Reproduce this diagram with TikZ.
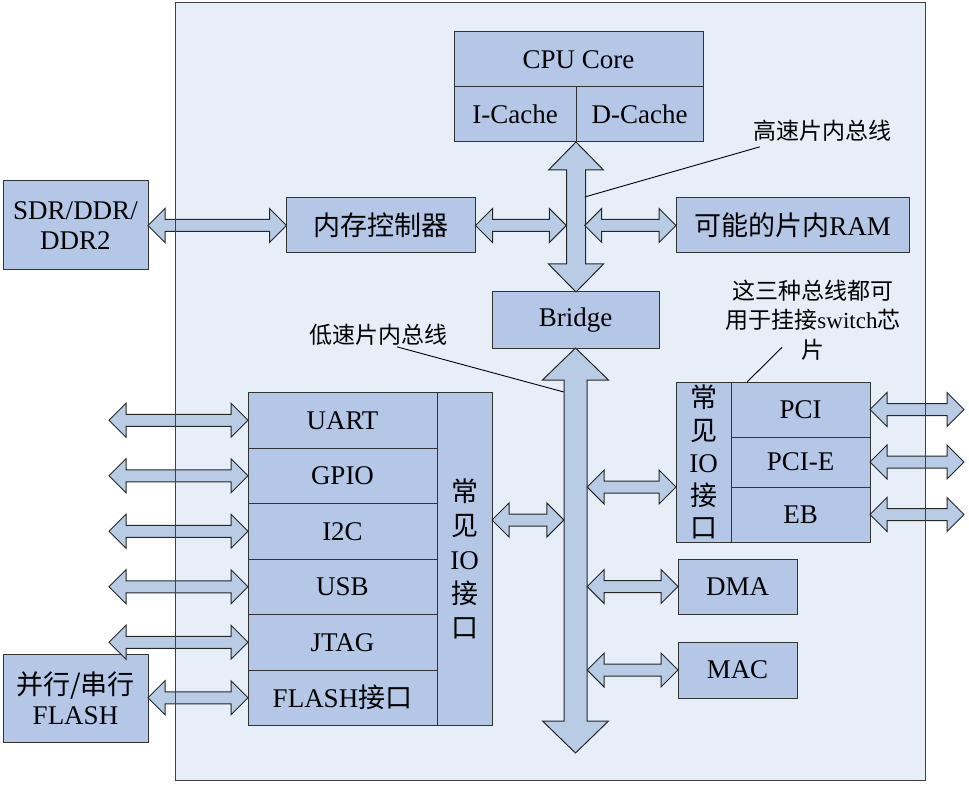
\documentclass[tikz,border=0pt]{standalone}
\usepackage{fontspec}
\setmainfont{Liberation Serif}
\newfontfamily\cjk{Noto Sans CJK SC}
\usetikzlibrary{positioning,fit,calc}
\definecolor{boxblue}{RGB}{180,199,231}
\definecolor{bgblue}{RGB}{232,238,248}
\definecolor{arrowblue}{RGB}{185,204,229}

% horizontal double block arrow: left end, right end, point giving the height
\newcommand{\hbiarrow}[3]{%
  \path (#1 |- #3) coordinate (ha) (#2 |- #3) coordinate (hb);
  \draw[blockarrow] (ha) -- ($(ha)+(17,-17)$) -- ($(ha)+(17,-6)$) -- ($(hb)+(-17,-6)$)
    -- ($(hb)+(-17,-17)$) -- (hb) -- ($(hb)+(-17,17)$) -- ($(hb)+(-17,6)$)
    -- ($(ha)+(17,6)$) -- ($(ha)+(17,17)$) -- cycle;
}
% vertical double block arrow: top end, bottom end, head length, head half width, shaft half width
\newcommand{\vbiarrow}[5]{%
  \path (#1) coordinate (va) (va |- #2) coordinate (vb);
  \draw[blockarrow] (va) -- ($(va)+(#4,#3)$) -- ($(va)+(#5,#3)$) -- ($(vb)+(#5,-#3)$)
    -- ($(vb)+(#4,-#3)$) -- (vb) -- ($(vb)+(-#4,-#3)$) -- ($(vb)+(-#5,-#3)$)
    -- ($(va)+(-#5,#3)$) -- ($(va)+(-#4,#3)$) -- cycle;
}

\begin{document}
\begin{tikzpicture}[x=1pt, y=-1pt,
    box/.style={rectangle, draw=black!80, fill=boxblue, line width=1pt, inner sep=0pt, outer sep=0pt, align=center, font=\fontsize{27}{30}\selectfont},
    rowbox/.style={box, minimum width=189, minimum height=55.5},
    colbox/.style={box, minimum width=55},
    note/.style={align=center, inner sep=1pt, font=\cjk\fontsize{23}{29.5}\selectfont},
    blockarrow/.style={draw=black!85, fill=arrowblue, line width=1pt, line join=miter},
    leader/.style={draw=black, line width=0.9pt}
]
\useasboundingbox (0,0) rectangle (969,786);
\node[fit={(176,3) (925,780)}, inner sep=0pt, fill=bgblue] (chip) {};

% CPU and high speed bus
\node[box, minimum width=249, minimum height=55] (cpu) at (578.5,59.5) {CPU Core};
\node[box, minimum width=122, minimum height=55, anchor=north west] (icache) at (cpu.south west) {I-Cache};
\node[box, minimum width=127, minimum height=55, right=0pt of icache] (dcache) {D-Cache};
\node[box, minimum width=189, minimum height=55] (memctl) at (381,225.5) {{\cjk 内存控制器}};
\node[box, minimum width=233, minimum height=55] (ram) at (792.5,225.5) {{\cjk 可能的片内}RAM};
\node[box, minimum width=145, minimum height=89] (sdr) at (75.5,225.5) {SDR/DDR/\\DDR2};
\node[box, minimum width=167, minimum height=56] (bridge) at (575.5,320) {Bridge};

% low speed IO
\node[rowbox] (uart) at (342.5,420.25) {UART};
\node[rowbox, below=0pt of uart] (gpio) {GPIO};
\node[rowbox, below=0pt of gpio] (i2c) {I2C};
\node[rowbox, below=0pt of i2c] (usb) {USB};
\node[rowbox, below=0pt of usb] (jtag) {JTAG};
\node[rowbox, below=0pt of jtag] (flashif) {FLASH{\cjk 接口}};
\node[colbox, minimum height=333, anchor=north west, font=\fontsize{27}{34}\selectfont] (lio) at (uart.north east)
    {{\cjk 常}\\{\cjk 见}\\IO\\{\cjk 接}\\{\cjk 口}};
\node[box, minimum width=145, minimum height=88] (flashchip) at (75.5,698) {{\cjk 并行/串行}\\FLASH};

\node[colbox, minimum height=160, font=\fontsize{27}{32.5}\selectfont] (rio) at (703.5,462)
    {{\cjk 常}\\{\cjk 见}\\IO\\{\cjk 接}\\{\cjk 口}};
\node[box, minimum width=139, minimum height=55, anchor=north west] (pci) at (rio.north east) {PCI};
\node[box, minimum width=139, minimum height=50, below=0pt of pci] (pcie) {PCI-E};
\node[box, minimum width=139, minimum height=55, below=0pt of pcie] (eb) {EB};
\node[box, minimum width=119, minimum height=55] (dma) at (737.5,586.5) {DMA};
\node[box, minimum width=119, minimum height=56] (mac) at (737.5,670) {MAC};

% bus shafts and free ends
\node[fit={(566.5,170) (584.5,264)}, inner sep=0pt] (hsbus) {};
\node[fit={(564,380) (587,720)}, inner sep=0pt] (lsbus) {};
\coordinate (lsend) at (575.5,753);
\coordinate (iofree) at (109,0);
\coordinate (riofree) at (964,0);
\coordinate (lioport) at (lio.east |- 0,520);

\vbiarrow{icache.south east}{bridge.north}{28}{27.5}{9.5}
\vbiarrow{bridge.south}{lsend}{32}{33}{11.5}

\hbiarrow{sdr.east}{memctl.west}{sdr.east}
\hbiarrow{memctl.east}{hsbus.west}{memctl.east}
\hbiarrow{hsbus.east}{ram.west}{ram.west}
\foreach \r in {uart,gpio,i2c,usb,jtag} {\hbiarrow{iofree}{\r.west}{\r.west}}
\hbiarrow{flashchip.east}{flashif.west}{flashif.west}
\hbiarrow{lio.east}{lsbus.west}{lioport}
\hbiarrow{lsbus.east}{rio.west}{eb.north}
\hbiarrow{lsbus.east}{dma.west}{dma.west}
\hbiarrow{lsbus.east}{mac.west}{mac.west}
\foreach \r in {pci,pcie,eb} {\hbiarrow{\r.east}{riofree}{\r.east}}

% notes
\node[note] (hslabel) at (822,131) {高速片内总线};
\node[note] (lslabel) at (378,335) {低速片内总线};
\node[note] (swlabel) at (813,320) {这三种总线都可\\用于挂接{\rmfamily switch}芯\\片};
\draw[leader] (hsbus.east |- 0,197) -- ([shift={(8,4)}]hslabel.south west);
\draw[leader] ([xshift=19pt]lslabel.south) -- (lsbus.west |- 0,392);
\draw[leader] ([shift={(-31,-14)}]swlabel.south) -- ([xshift=16pt]pci.north west);

\draw[black!75, line width=1pt] (chip.north west) rectangle (chip.south east);
\end{tikzpicture}
\end{document}
